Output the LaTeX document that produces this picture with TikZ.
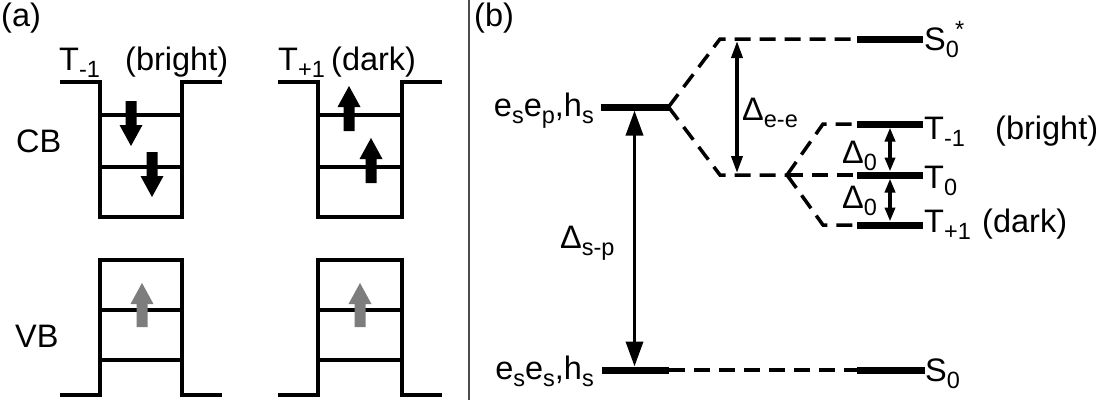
\documentclass[tikz,border=0pt]{standalone}
\usepackage{fontspec}
\setmainfont{Liberation Sans}
\usetikzlibrary{arrows.meta}
\newcommand\spinarrow[5]{\fill[#1] ({#2-5.5},#3) -- ({#2-5.5},#4) -- ({#2-11.5},#4) -- (#2,#5) -- ({#2+11.5},#4) -- ({#2+5.5},#4) -- ({#2+5.5},#3) -- cycle;}
\newcommand\sbs[1]{\raisebox{-0.24em}{\fontsize{23.5}{24}\selectfont #1}}
\newcommand\sps[1]{\raisebox{0.4em}{\fontsize{23.5}{24}\selectfont #1}}
\definecolor{spingray}{RGB}{125,125,125}
\begin{document}
\begin{tikzpicture}[x=1pt,y=-1pt,
  well/.style={line width=3.5pt, line join=miter},
  lvl/.style={rectangle, draw=none, fill=black, minimum height=7pt, inner sep=0pt, outer sep=0pt},
  dsh/.style={line width=3.5pt, dash pattern=on 16pt off 9pt},
  lbl/.style={font=\fontsize{32.5}{38}\selectfont, inner sep=0pt, anchor=base west},
  lble/.style={font=\fontsize{32.5}{38}\selectfont, inner sep=0pt, anchor=base east},
  bigarr/.style={line width=3.5pt, {Triangle[length=25pt,width=17pt]}-{Triangle[length=25pt,width=17pt]}},
  medarr/.style={line width=3.5pt, {Triangle[length=17pt,width=11pt]}-{Triangle[length=17pt,width=11pt]}},
  smlarr/.style={line width=3.5pt, {Triangle[length=14pt,width=10pt]}-{Triangle[length=14pt,width=10pt]}}
]
\useasboundingbox (0,0) rectangle (1115,407);

% ---------------- panel (a) ----------------
\node[lbl] (la) at (1,26) {(a)};
\node[lbl] (ta1) at (59,70) {T\sbs{-1}};
\node[lbl] (tb1) at (125,70) {(bright)};
\node[lbl] (ta2) at (278,70) {T\sbs{+1}};
\node[lbl] (tb2) at (331,70) {(dark)};
\node[lbl] (cb) at (16,152) {CB};
\node[lbl] (vb) at (15,347) {VB};

% CB wells
\draw[well] (60,82) -- (100,82) -- (100,217) -- (182,217) -- (182,82) -- (222,82);
\draw[well] (100,115) -- (182,115);
\draw[well] (100,167) -- (182,167);
\draw[well] (278,82) -- (318,82) -- (318,217) -- (402,217) -- (402,82) -- (442,82);
\draw[well] (318,115) -- (402,115);
\draw[well] (318,167) -- (402,167);
% VB wells
\draw[well] (60,395) -- (100,395) -- (100,260) -- (182,260) -- (182,395) -- (222,395);
\draw[well] (100,310) -- (182,310);
\draw[well] (100,360) -- (182,360);
\draw[well] (278,395) -- (318,395) -- (318,260) -- (402,260) -- (402,395) -- (442,395);
\draw[well] (318,310) -- (402,310);
\draw[well] (318,360) -- (402,360);

% spins
\spinarrow{black}{131}{101}{125}{146}
\spinarrow{black}{152}{152}{176}{197}
\spinarrow{black}{349}{131}{107}{86}
\spinarrow{black}{371}{183}{159}{138}
\spinarrow{spingray}{142}{327}{304}{283}
\spinarrow{spingray}{360}{327}{304}{283}

% divider
\draw[line width=1.5pt, black!70] (469,0) -- (469,400);

% ---------------- panel (b) ----------------
\node[lbl] (lbb) at (474,26) {(b)};

\node[lvl, minimum width=68pt] (Esp) at (634.5,107) {};
\node[lvl, minimum width=67pt] (Ess) at (635.5,370) {};
\node[lvl, minimum width=66pt] (Sst) at (890,39) {};
\node[lvl, minimum width=66pt] (Tm) at (890,124) {};
\node[lvl, minimum width=66pt] (Tz) at (890,175) {};
\node[lvl, minimum width=66pt] (Tp) at (890,225) {};
\node[lvl, minimum width=68pt] (S0) at (891,370) {};

\node[lble] (lesp) at (594,116) {e\sbs{s}e\sbs{p},h\sbs{s}};
\node[lble] (less) at (594,379) {e\sbs{s}e\sbs{s},h\sbs{s}};
\node[lbl] (lsst) at (924,50) {S\sbs{0}\hspace{-0.12em}\sps{*}};
\node[lbl] (ltm) at (924,139) {T\sbs{-1}};
\node[lbl] (ltmb) at (995,139) {(bright)};
\node[lbl] (ltz) at (924,188) {T\sbs{0}};
\node[lbl] (ltp) at (924,232) {T\sbs{+1}};
\node[lbl] (ltpd) at (982,232) {(dark)};
\node[lbl] (ls0) at (925,381) {S\sbs{0}};

\node[lbl] (dsp) at (560,248) {Δ\sbs{s-p}};
\node[lbl] (dee) at (742,120) {Δ\sbs{e-e}};
\node[lbl] (d01) at (842,163) {Δ\sbs{0}};
\node[lbl] (d02) at (842,208) {Δ\sbs{0}};

\coordinate (c1) at (720,39);
\coordinate (c2) at (720,175);
\coordinate (sp) at (787,175);
\coordinate (c3) at (823,124);
\coordinate (c4) at (823,225);
\coordinate (e1) at (737,41);
\coordinate (e2) at (737,173);

\draw[dsh] (Esp.east) -- (c1) -- (Sst.west);
\draw[dsh] (Esp.east) -- (c2) -- (sp);
\draw[dsh] (sp) -- (c3) -- (Tm.west);
\draw[dsh] (sp) -- (Tz.west);
\draw[dsh] (sp) -- (c4) -- (Tp.west);
\draw[dsh] (Ess.east) -- (S0.west);

\draw[bigarr] (Esp.south) -- (Esp.south |- Ess.north);
\draw[medarr] (e1) -- (e2);
\draw[smlarr] (Tm.south) -- (Tz.north);
\draw[smlarr] (Tz.south) -- (Tp.north);
\end{tikzpicture}
\end{document}
